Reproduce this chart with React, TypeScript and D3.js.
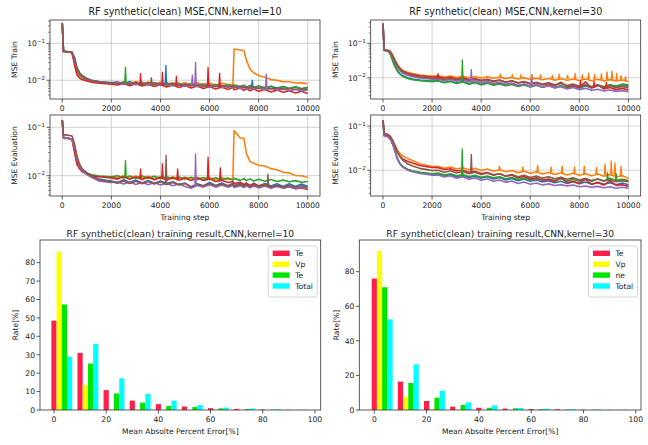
import React from "react";
import * as d3 from "d3";

// ---------- colours ----------
const C_BLUE = "#1f77b4";
const C_ORANGE = "#ff7f0e";
const C_GREEN = "#2ca02c";
const C_RED = "#d62728";
const C_PURPLE = "#9467bd";
const C_BROWN = "#8c564b";
const SERIES_COLORS = [C_BLUE, C_ORANGE, C_GREEN, C_RED, C_PURPLE, C_BROWN];

// ---------- line data (values in units of 1e-4) ----------
const STEPS_K10 = [0, 50, 100, 200, 300, 400, 500, 600, 700, 800, 1000, 1200, 1500, 1800, 2000,
  2250, 2500, 2750, 3000, 3250, 3500, 3750, 4000, 4250, 4500, 4750, 5000, 5250, 5500, 5750, 6000, 6250, 6500, 6750,
  6950, 7000, 7250, 7400, 7500, 7650, 7800, 8000,
  8250, 8500, 8750, 9000, 9250, 9500, 9750, 10000];

const STEPS_K30 = [0, 50, 100, 200, 300, 400, 500, 600, 700, 800, 1000, 1200, 1500, 1800, 2000,
  2250, 2500, 2750, 3000, 3250, 3500, 3750, 4000, 4250, 4500, 4750, 5000, 5250, 5500, 5750, 6000,
  6250, 6500, 6750, 7000, 7250, 7500, 7750, 8000, 8250, 8500, 8750, 9000, 9250, 9500, 9750, 10000];

// Train, kernel=10
const TR10_BLUE = [3500, 610, 600, 600, 590, 570, 420, 220, 160, 135, 110, 100, 92, 88, 86,
  90, 80, 92, 78, 88, 76, 87, 75, 85, 73, 83, 72, 81, 70, 79, 68, 77, 67, 75,
  66, 74, 65, 73, 64, 72, 63, 70,
  62, 69, 61, 68, 60, 67, 59, 64];
const TR10_ORANGE = [3500, 600, 590, 590, 580, 560, 300, 170, 135, 120, 100, 93, 88, 85, 84,
  80, 90, 82, 92, 80, 89, 79, 88, 78, 87, 77, 86, 76, 85, 75, 84, 74, 83, 76,
  78, 700, 660, 640, 350, 200, 160, 135,
  120, 104, 100, 91, 91, 84, 85, 80];
const TR10_GREEN = [3500, 600, 600, 590, 585, 560, 320, 180, 140, 122, 102, 94, 88, 85, 83,
  86, 78, 88, 77, 86, 75, 85, 74, 83, 73, 82, 71, 80, 70, 78, 69, 77, 67, 75,
  66, 74, 65, 73, 64, 71, 63, 70,
  62, 69, 61, 67, 60, 66, 59, 63];
const TR10_RED = [3500, 600, 600, 590, 580, 540, 260, 140, 115, 105, 95, 88, 83, 80, 78,
  74, 82, 71, 80, 70, 78, 68, 76, 66, 74, 64, 72, 62, 70, 60, 68, 58, 66, 56,
  64, 55, 62, 53, 60, 52, 58, 50,
  56, 48, 54, 47, 52, 45, 50, 44];
const TR10_PURPLE = [3500, 620, 610, 600, 590, 575, 350, 200, 155, 132, 108, 97, 90, 86, 84,
  88, 78, 86, 76, 84, 74, 82, 72, 80, 70, 78, 68, 76, 67, 74, 65, 72, 63, 70,
  62, 68, 60, 66, 58, 64, 57, 62,
  55, 61, 54, 59, 52, 57, 51, 55];
const TR10_BROWN = [3500, 600, 600, 595, 585, 565, 380, 210, 160, 135, 110, 98, 90, 86, 84,
  80, 89, 78, 87, 76, 85, 75, 83, 73, 81, 72, 79, 70, 77, 68, 75, 67, 73, 65,
  72, 64, 70, 62, 68, 61, 66, 60,
  64, 58, 62, 57, 60, 56, 59, 55];

// Evaluation, kernel=10
const EV10_BLUE = [1400, 600, 590, 590, 580, 560, 400, 230, 170, 140, 115, 100, 85, 80, 78,
  72, 82, 73, 81, 71, 80, 70, 78, 69, 75, 66, 70, 58, 68, 62, 72, 63, 71, 62,
  70, 62, 71, 62, 70, 61, 70, 61,
  69, 61, 68, 60, 68, 60, 67, 60];
const EV10_ORANGE = [1400, 620, 610, 600, 590, 570, 330, 190, 150, 128, 110, 102, 97, 95, 94,
  90, 100, 88, 99, 87, 97, 86, 96, 85, 95, 84, 94, 83, 93, 82, 92, 81, 91, 84,
  86, 850, 600, 590, 290, 195, 180, 165,
  158, 140, 133, 118, 114, 101, 100, 92];
const EV10_GREEN = [1400, 610, 600, 600, 590, 565, 340, 200, 160, 135, 112, 104, 98, 96, 95,
  100, 90, 99, 89, 98, 88, 97, 87, 95, 86, 94, 85, 93, 84, 92, 83, 91, 82, 89,
  81, 88, 80, 87, 79, 86, 78, 84,
  77, 83, 76, 81, 75, 79, 73, 76];
const EV10_RED = [1400, 600, 600, 595, 585, 550, 300, 170, 140, 122, 108, 100, 95, 92, 90,
  85, 95, 84, 94, 83, 93, 82, 92, 81, 91, 80, 90, 79, 89, 80, 86, 76, 80, 72,
  76, 69, 73, 66, 70, 63, 68, 61,
  65, 58, 62, 56, 59, 54, 56, 52];
const EV10_PURPLE = [1400, 610, 600, 600, 590, 570, 380, 220, 160, 130, 105, 92, 78, 74, 72,
  75, 67, 74, 66, 73, 65, 72, 64, 70, 62, 68, 60, 55, 63, 58, 65, 58, 64, 58,
  63, 57, 62, 57, 62, 56, 61, 56,
  61, 55, 60, 55, 59, 54, 58, 54];
const EV10_BROWN = [1400, 700, 700, 690, 680, 660, 450, 250, 175, 140, 112, 98, 82, 77, 75,
  70, 78, 69, 77, 68, 76, 67, 75, 66, 72, 64, 69, 59, 66, 61, 68, 61, 67, 61,
  67, 60, 66, 60, 65, 59, 65, 59,
  64, 58, 63, 58, 63, 57, 62, 57];

// Train, kernel=30
const TR30_BLUE = [3800, 630, 620, 600, 500, 320, 215, 160, 132, 116, 100, 92, 86, 82, 80,
  82, 73, 80, 70, 77, 67, 74, 64, 71, 62, 69, 60, 67, 57, 64, 55, 62, 53, 60, 51, 58, 50, 57, 49, 58, 50, 59, 51, 61, 53, 63, 56];
const TR30_ORANGE = [3800, 660, 650, 630, 580, 450, 320, 235, 190, 165, 145, 132, 120, 114, 111,
  114, 104, 112, 102, 110, 100, 108, 98, 106, 96, 104, 94, 102, 92, 99, 89, 97, 87, 95, 85, 93, 84, 92, 83, 92, 82, 90, 81, 88, 80, 86, 78];
const TR30_GREEN = [3800, 620, 610, 590, 480, 300, 200, 150, 125, 110, 95, 88, 82, 79, 77,
  80, 71, 78, 68, 75, 65, 72, 62, 69, 60, 66, 58, 64, 56, 62, 54, 60, 53, 59, 52, 58, 52, 58, 53, 59, 54, 61, 55, 62, 57, 65, 62];
const TR30_RED = [3800, 650, 640, 625, 570, 430, 300, 225, 180, 155, 135, 124, 114, 108, 105,
  106, 96, 103, 92, 99, 88, 95, 84, 90, 80, 86, 75, 81, 70, 76, 66, 71, 62, 67, 58, 74, 55, 60, 52, 76, 50, 63, 47, 52, 45, 49, 44];
const TR30_PURPLE = [3800, 640, 630, 610, 540, 400, 270, 200, 160, 138, 118, 108, 98, 93, 90,
  92, 82, 89, 79, 86, 75, 82, 71, 78, 68, 74, 64, 70, 60, 66, 56, 62, 53, 58, 50, 55, 47, 52, 45, 49, 43, 46, 41, 44, 40, 42, 39];
const TR30_BROWN = [3800, 645, 635, 615, 560, 420, 290, 215, 175, 150, 128, 116, 106, 100, 97,
  99, 89, 96, 86, 93, 83, 90, 80, 87, 77, 84, 74, 81, 71, 77, 68, 74, 65, 71, 62, 68, 59, 65, 57, 62, 55, 60, 53, 58, 51, 56, 50];

// Evaluation, kernel=30
const EV30_BLUE = [1370, 610, 600, 580, 510, 390, 260, 175, 138, 120, 103, 95, 88, 84, 81,
  82, 74, 80, 71, 77, 68, 74, 66, 71, 63, 68, 60, 65, 58, 63, 56, 60, 54, 58, 52, 56, 50, 55, 49, 54, 48, 53, 48, 52, 47, 51, 47];
const EV30_ORANGE = [1370, 640, 630, 610, 560, 470, 360, 280, 235, 210, 185, 165, 140, 128, 121,
  122, 110, 118, 106, 114, 102, 110, 98, 106, 95, 102, 92, 98, 88, 95, 85, 92, 82, 89, 80, 87, 78, 85, 77, 83, 75, 82, 73, 80, 71, 75, 66];
const EV30_GREEN = [1370, 620, 610, 590, 520, 400, 270, 180, 140, 122, 105, 97, 90, 86, 83,
  86, 78, 83, 75, 80, 72, 77, 69, 74, 67, 71, 64, 68, 62, 66, 60, 64, 59, 63, 58, 64, 57, 62, 56, 65, 56, 63, 57, 66, 58, 62, 58];
const EV30_RED = [1370, 630, 620, 600, 550, 450, 330, 250, 205, 180, 160, 145, 128, 120, 115,
  114, 104, 108, 96, 100, 90, 94, 84, 88, 79, 83, 73, 77, 68, 72, 63, 67, 59, 62, 55, 69, 52, 56, 50, 63, 48, 52, 46, 58, 45, 47, 43];
const EV30_PURPLE = [1370, 600, 590, 570, 500, 380, 250, 170, 135, 118, 100, 92, 84, 80, 77,
  78, 70, 75, 66, 71, 62, 67, 59, 63, 56, 60, 53, 57, 50, 54, 48, 51, 46, 49, 45, 47, 44, 46, 42, 44, 41, 43, 40, 42, 39, 41, 39];
const EV30_BROWN = [1370, 680, 670, 650, 590, 470, 340, 250, 200, 170, 140, 125, 110, 103, 98,
  100, 90, 97, 86, 93, 83, 90, 80, 86, 77, 83, 74, 80, 71, 77, 68, 74, 66, 71, 64, 69, 62, 67, 60, 65, 58, 63, 57, 61, 55, 58, 55];

// spikes: [seriesIndex, step, base, peak] (1e-4 units)
const SPIKES_TR10 = [[2, 2575, 83, 230], [3, 3190, 74, 157], [5, 3630, 80, 120], [3, 4080, 71, 170],
  [0, 4220, 80, 260], [3, 4650, 70, 131], [4, 5300, 76, 140], [4, 5430, 75, 310], [3, 5940, 65, 230],
  [3, 6410, 62, 160], [0, 7740, 69, 102], [4, 8310, 60, 150]];
const SPIKES_EV10 = [[2, 2575, 94, 210], [3, 3190, 88, 140], [3, 4080, 86, 180], [5, 4230, 71, 270],
  [3, 4700, 85, 140], [4, 5430, 60, 290], [3, 5940, 84, 245], [3, 6440, 82, 150], [5, 8380, 61, 110]];
const SPIKES_TR30 = [[3, 2245, 100, 134], [2, 3235, 70, 340], [4, 3600, 78, 178], [4, 6060, 60, 128],
  [1, 4780, 104, 128], [1, 5270, 104, 120], [1, 5620, 100, 118], [1, 6060, 97, 128], [1, 6420, 95, 125],
  [1, 6900, 93, 118], [1, 7180, 92, 130], [1, 7520, 92, 120], [1, 7830, 90, 135], [1, 8120, 90, 125],
  [1, 8380, 88, 140], [1, 8620, 88, 128], [1, 8900, 86, 135], [1, 9130, 85, 150], [1, 9330, 84, 160],
  [1, 9520, 84, 140], [1, 9700, 82, 120], [1, 9880, 80, 110],
  [3, 8050, 55, 85], [3, 8600, 50, 80], [3, 9100, 48, 75]];
const SPIKES_EV30 = [[2, 3230, 70, 310], [5, 3600, 86, 233],
  [1, 4750, 102, 125], [1, 5700, 95, 120], [1, 6300, 90, 130], [1, 6850, 88, 120], [1, 7300, 85, 128],
  [1, 7800, 83, 120], [1, 8200, 80, 125], [1, 8700, 78, 118], [1, 9050, 77, 140], [1, 9300, 75, 165],
  [1, 9450, 75, 150], [1, 9700, 72, 125], [2, 9150, 60, 90], [2, 9500, 60, 85]];

const X_TICKS = [0, 2000, 4000, 6000, 8000, 10000];

// ---------- histogram data ----------
const BINS = [0, 10, 20, 30, 40, 50, 60, 70, 80, 90];
const K10_TE = [48.5, 31, 10.8, 5.1, 3.2, 1.9, 1.0, 0.6, 0.3, 0.1];
const K10_VP = [86, 13.5, 0.3, 0.1, 0.05, 0, 0, 0, 0, 0];
const K10_TE2 = [57.3, 25.2, 9.0, 4.0, 2.2, 1.6, 0.9, 0.5, 0.2, 0.1];
const K10_TOTAL = [29, 35.8, 17.2, 8.8, 5.1, 2.7, 1.3, 0.8, 0.4, 0.2];
const K30_TE = [76, 16.4, 5.2, 1.9, 1.3, 0.8, 0.6, 0.4, 0.2, 0.1];
const K30_VP = [92, 7.7, 0.5, 0.2, 0.1, 0, 0, 0, 0, 0];
const K30_NE = [71, 15.6, 7.1, 2.9, 1.3, 1.0, 0.5, 0.3, 0.2, 0.1];
const K30_TOTAL = [52.4, 26.4, 11.2, 4.4, 2.7, 1.2, 0.8, 0.5, 0.3, 0.2];
const BAR_COLORS = ["#ff1f4b", "#ffff00", "#00e600", "#00ffff"];
const LEGEND_K10 = ["Te", "Vp", "Te", "Total"];
const LEGEND_K30 = ["Te", "Vp", "ne", "Total"];
const BAR_X_TICKS = [0, 20, 40, 60, 80, 100];

const FONT = "DejaVu Sans, sans-serif";
const TICK_FS = 7.6;
const LABEL_FS = 7.6;
const LINE_TITLE_FS = 9.6;
const BAR_TITLE_FS = 9.1;
const AX = "#333";

let clipId = 0;

function Sup({ x, y, exp }: { x: number; y: number; exp: number }) {
  return (
    <text x={x} y={y} textAnchor="end" fontSize={TICK_FS} fontFamily={FONT} fill="#222">
      10<tspan dy={-3.4} fontSize={TICK_FS * 0.72}>{"\u2212" + Math.abs(exp)}</tspan>
    </text>
  );
}

function LinePanel(props: {
  left: number; right: number; top: number; bottom: number;
  yLo: number; yHi: number; steps: number[]; series: number[][]; spikes: number[][];
  title?: string; ylabel: string; xlabel?: string; ylabelX: number;
}) {
  const { left, right, top, bottom, yLo, yHi, steps, series, spikes, title, ylabel, xlabel, ylabelX } = props;
  const x = d3.scaleLinear().domain([-500, 10500]).range([left, right]);
  const y = d3.scaleLog().domain([yLo, yHi]).range([bottom, top]);
  const id = "clip" + (clipId++);
  const line = d3.line<number>().x((_, i) => x(steps[i])).y((v) => y(v * 1e-4));
  const majors = [1e-3, 1e-2, 1e-1, 1].filter((v) => v >= yLo && v <= yHi);
  const minors: number[] = [];
  for (const dec of [1e-4, 1e-3, 1e-2, 1e-1]) {
    for (let k = 2; k <= 9; k++) {
      const v = k * dec;
      if (v >= yLo && v <= yHi) minors.push(v);
    }
  }
  return (
    <g>
      <defs>
        <clipPath id={id}>
          <rect x={left} y={top} width={right - left} height={bottom - top} />
        </clipPath>
      </defs>
      {X_TICKS.map((t) => (
        <line key={"gx" + t} x1={x(t)} x2={x(t)} y1={top} y2={bottom} stroke="#b0b0b0" strokeWidth={0.8} opacity={0.7} />
      ))}
      {majors.map((t) => (
        <line key={"gy" + t} x1={left} x2={right} y1={y(t)} y2={y(t)} stroke="#b0b0b0" strokeWidth={0.8} opacity={0.7} />
      ))}
      <g clipPath={`url(#${id})`}>
        {series.map((vals, si) => (
          <path key={si} d={line(vals) || ""} fill="none" stroke={SERIES_COLORS[si]} strokeWidth={1.6} strokeLinejoin="round" />
        ))}
        {spikes.map((s, i) => {
          const [si, st, base, peak] = s;
          const d = `M${x(st - 30)},${y(base * 1e-4)}L${x(st)},${y(peak * 1e-4)}L${x(st + 30)},${y(base * 1e-4)}`;
          return <path key={"sp" + i} d={d} fill="none" stroke={SERIES_COLORS[si]} strokeWidth={1.3} />;
        })}
      </g>
      <rect x={left} y={top} width={right - left} height={bottom - top} fill="none" stroke={AX} strokeWidth={0.8} />
      {X_TICKS.map((t) => (
        <g key={"xt" + t}>
          <line x1={x(t)} x2={x(t)} y1={bottom} y2={bottom + 3.5} stroke={AX} strokeWidth={0.8} />
          <text x={x(t)} y={bottom + 12} textAnchor="middle" fontSize={TICK_FS} fontFamily={FONT} fill="#222">{t}</text>
        </g>
      ))}
      {majors.map((t) => (
        <g key={"yt" + t}>
          <line x1={left - 3.5} x2={left} y1={y(t)} y2={y(t)} stroke={AX} strokeWidth={0.8} />
          <Sup x={left - 5} y={y(t) + 3} exp={Math.round(Math.log10(t))} />
        </g>
      ))}
      {minors.map((t) => (
        <line key={"ym" + t} x1={left - 2} x2={left} y1={y(t)} y2={y(t)} stroke={AX} strokeWidth={0.6} />
      ))}
      {title && (
        <text x={(left + right) / 2} y={top - 5} textAnchor="middle" fontSize={LINE_TITLE_FS} fontFamily={FONT} fill="#222">{title}</text>
      )}
      <text transform={`translate(${ylabelX},${(top + bottom) / 2}) rotate(-90)`} textAnchor="middle" fontSize={LABEL_FS} fontFamily={FONT} fill="#222">{ylabel}</text>
      {xlabel && (
        <text x={(left + right) / 2} y={bottom + 24} textAnchor="middle" fontSize={LABEL_FS} fontFamily={FONT} fill="#222">{xlabel}</text>
      )}
    </g>
  );
}

function BarPanel(props: {
  left: number; right: number; top: number; bottom: number;
  xLo: number; xHi: number; yHi: number; yTicks: number[];
  data: number[][]; names: string[]; title: string; ylabelX: number;
}) {
  const { left, right, top, bottom, xLo, xHi, yHi, yTicks, data, names, title, ylabelX } = props;
  const x = d3.scaleLinear().domain([xLo, xHi]).range([left, right]);
  const y = d3.scaleLinear().domain([0, yHi]).range([bottom, top]);
  const offsets = [0, 2, 4, 6];
  const bw = x(2) - x(0);
  const lgRight = right - 3.5;
  const lgLeft = lgRight - 49;
  const lgTop = top + 6;
  return (
    <g>
      {data.map((vals, si) =>
        vals.map((v, bi) => (
          <rect key={si + "-" + bi} x={x(BINS[bi] + offsets[si] - 1)} y={y(v)} width={bw} height={Math.max(0, y(0) - y(v))} fill={BAR_COLORS[si]} />
        ))
      )}
      <rect x={left} y={top} width={right - left} height={bottom - top} fill="none" stroke={AX} strokeWidth={0.8} />
      {BAR_X_TICKS.map((t) => (
        <g key={"bx" + t}>
          <line x1={x(t)} x2={x(t)} y1={bottom} y2={bottom + 3.5} stroke={AX} strokeWidth={0.8} />
          <text x={x(t)} y={bottom + 12} textAnchor="middle" fontSize={TICK_FS} fontFamily={FONT} fill="#222">{t}</text>
        </g>
      ))}
      {yTicks.map((t) => (
        <g key={"by" + t}>
          <line x1={left - 3.5} x2={left} y1={y(t)} y2={y(t)} stroke={AX} strokeWidth={0.8} />
          <text x={left - 5} y={y(t) + 2.8} textAnchor="end" fontSize={TICK_FS} fontFamily={FONT} fill="#222">{t}</text>
        </g>
      ))}
      <text x={(left + right) / 2} y={top - 3} textAnchor="middle" fontSize={BAR_TITLE_FS} fontFamily={FONT} fill="#222">{title}</text>
      <text transform={`translate(${ylabelX},${(top + bottom) / 2}) rotate(-90)`} textAnchor="middle" fontSize={LABEL_FS} fontFamily={FONT} fill="#222">Rate[%]</text>
      <text x={(left + right) / 2} y={bottom + 24} textAnchor="middle" fontSize={LABEL_FS} fontFamily={FONT} fill="#222">Mean Absolte Percent Error[%]</text>
      <rect x={lgLeft} y={lgTop} width={lgRight - lgLeft} height={51} rx={2} fill="#fff" fillOpacity={0.8} stroke="#ccc" strokeWidth={0.8} />
      {names.map((n, i) => (
        <g key={"lg" + i}>
          <rect x={lgLeft + 4.5} y={lgTop + 7.3 + i * 10.9 - 2.7} width={17} height={5.4} fill={BAR_COLORS[i]} />
          <text x={lgLeft + 27} y={lgTop + 7.3 + i * 10.9 + 2.8} fontSize={TICK_FS} fontFamily={FONT} fill="#222">{n}</text>
        </g>
      ))}
    </g>
  );
}

export default function App() {
  clipId = 0;
  return (
    <svg width={648} height={445} style={{ display: "block", position: "absolute", left: 0, top: 0 }}>
      <rect width={648} height={445} fill="#fff" />
      <LinePanel left={50} right={320} top={20} bottom={99} yLo={0.0031} yHi={0.43} steps={STEPS_K10}
        series={[TR10_BLUE, TR10_ORANGE, TR10_GREEN, TR10_RED, TR10_PURPLE, TR10_BROWN]} spikes={SPIKES_TR10}
        title="RF synthetic(clean) MSE,CNN,kernel=10" ylabel="MSE Train" ylabelX={17} />
      <LinePanel left={50} right={320} top={115} bottom={196} yLo={0.0038} yHi={0.18} steps={STEPS_K10}
        series={[EV10_BLUE, EV10_ORANGE, EV10_GREEN, EV10_RED, EV10_PURPLE, EV10_BROWN]} spikes={SPIKES_EV10}
        ylabel="MSE Evaluation" xlabel="Training step" ylabelX={17} />
      <LinePanel left={370.7} right={640.7} top={20} bottom={99} yLo={0.0024} yHi={0.48} steps={STEPS_K30}
        series={[TR30_BLUE, TR30_ORANGE, TR30_GREEN, TR30_RED, TR30_PURPLE, TR30_BROWN]} spikes={SPIKES_TR30}
        title="RF synthetic(clean) MSE,CNN,kernel=30" ylabel="MSE Train" ylabelX={337.7} />
      <LinePanel left={370.7} right={640.7} top={115} bottom={196} yLo={0.0026} yHi={0.178} steps={STEPS_K30}
        series={[EV30_BLUE, EV30_ORANGE, EV30_GREEN, EV30_RED, EV30_PURPLE, EV30_BROWN]} spikes={SPIKES_EV30}
        ylabel="MSE Evaluation" xlabel="Training step" ylabelX={337.7} />
      <BarPanel left={40} right={320.7} top={240} bottom={410} xLo={-5.36} xHi={102.2} yHi={92.3}
        yTicks={[0, 10, 20, 30, 40, 50, 60, 70, 80]} data={[K10_TE, K10_VP, K10_TE2, K10_TOTAL]} names={LEGEND_K10}
        title="RF synthetic(clean) training result,CNN,kernel=10" ylabelX={18} />
      <BarPanel left={359.3} right={641} top={240} bottom={410} xLo={-5.74} xHi={102} yHi={98.3}
        yTicks={[0, 20, 40, 60, 80]} data={[K30_TE, K30_VP, K30_NE, K30_TOTAL]} names={LEGEND_K30}
        title="RF synthetic(clean) training result,CNN,kernel=30" ylabelX={338.5} />
    </svg>
  );
}
